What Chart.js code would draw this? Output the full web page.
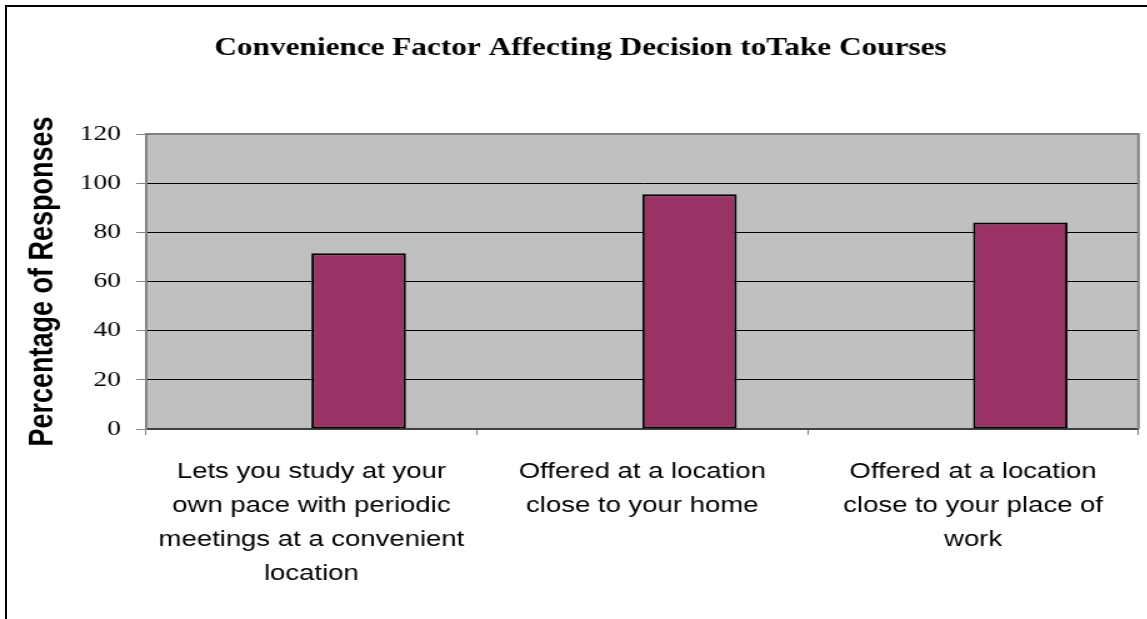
<!DOCTYPE html>
<html>
<head>
<meta charset="utf-8">
<script src="https://cdn.jsdelivr.net/npm/chart.js@4.4.1/dist/chart.umd.min.js"></script>
<style>
    html, body { margin: 0; padding: 0; background: #fff; overflow: hidden; }
    #frame { position: absolute; left: 5px; top: 5px; width: 3000px; height: 3000px;
             border-left: 2px solid #000; border-top: 2px solid #000; }
    /* the original picture is stretched sideways, so the chart is too */
    #wrap { position: absolute; left: 0; top: 0; width: 918px; height: 619px;
            transform: scaleX(1.25); transform-origin: 0 0; }
</style>
</head>
<body>
<div id="frame"></div>
<div id="wrap"><canvas id="grafico"></canvas></div>
<script>
// Dados
const categorias = [
    ['Lets you study at your', 'own pace with periodic', 'meetings at a convenient', 'location'],
    ['Offered at a location', 'close to your home'],
    ['Offered at a location', 'close to your place of', 'work']
];
const serieVazia = [null, null, null];
const respostas = [71.5, 95.5, 84];
const yMin = 0;
const yMax = 120;
const yPasso = 20;

const titulo = 'Convenience Factor Affecting Decision toTake Courses';
const tituloEixoY = 'Percentage of Responses';

// Fundo cinza e borda da área do gráfico
const fundoArea = {
    id: 'fundoArea',
    beforeDraw(chart) {
        const { ctx, chartArea: a } = chart;
        ctx.save();
        ctx.fillStyle = '#C0C0C0';
        ctx.fillRect(a.left, a.top, a.right - a.left, a.bottom - a.top);
        ctx.restore();
    },
    afterDraw(chart) {
        const { ctx, chartArea: a } = chart;
        ctx.save();
        ctx.strokeStyle = '#808080';
        ctx.lineWidth = 2;
        ctx.beginPath();
        ctx.moveTo(a.left, a.top);
        ctx.lineTo(a.right, a.top);
        ctx.lineTo(a.right, a.bottom);
        ctx.stroke();
        ctx.restore();
    }
};

new Chart(document.getElementById('grafico'), {
    type: 'bar',
    data: {
        labels: categorias,
        datasets: [{
            label: '',
            data: serieVazia,
            backgroundColor: '#C0C0C0'
        }, {
            label: 'Responses',
            data: respostas,
            backgroundColor: '#993366',
            borderColor: '#000000',
            borderWidth: 2,
            borderSkipped: false
        }]
    },
    options: {
        responsive: true,
        maintainAspectRatio: false,
        animation: false,
        categoryPercentage: 0.5714,
        barPercentage: 1.0,
        layout: { padding: { left: 18, right: 7.2, top: 0, bottom: 0 } },
        plugins: {
            legend: { display: false },
            tooltip: { enabled: false },
            title: {
                display: true,
                text: titulo,
                color: '#000',
                font: { family: "'Liberation Serif', 'Times New Roman', serif", size: 25, weight: 'bold', lineHeight: 1.2 },
                padding: { top: 33.5, bottom: 70.5 }
            }
        },
        scales: {
            x: {
                afterFit(scale) { scale.height = 190; },
                grid: {
                    drawOnChartArea: false,
                    drawTicks: true,
                    tickLength: 6,
                    tickColor: '#808080'
                },
                border: { color: '#404040', width: 2 },
                ticks: {
                    autoSkip: false,
                    maxRotation: 0,
                    minRotation: 0,
                    padding: 20,
                    color: '#000',
                    font: { family: "'Liberation Sans', Arial, sans-serif", size: 22, lineHeight: '34px' }
                }
            },
            y: {
                min: yMin,
                max: yMax,
                afterFit(scale) { scale.width = 98.8; },
                grid: {
                    color: '#000000',
                    lineWidth: 1,
                    drawTicks: true,
                    tickLength: 8,
                    tickColor: '#808080'
                },
                border: { color: '#808080', width: 2 },
                ticks: {
                    stepSize: yPasso,
                    padding: 12,
                    color: '#000',
                    font: { family: "'Liberation Serif', 'Times New Roman', serif", size: 22 }
                },
                title: {
                    display: true,
                    text: tituloEixoY,
                    color: '#000',
                    padding: { top: 0, bottom: 0 },
                    font: { family: "'Liberation Sans', Arial, sans-serif", size: 27, weight: 'bold', lineHeight: 1.2 }
                }
            }
        }
    },
    plugins: [fundoArea]
});
</script>
</body>
</html>
